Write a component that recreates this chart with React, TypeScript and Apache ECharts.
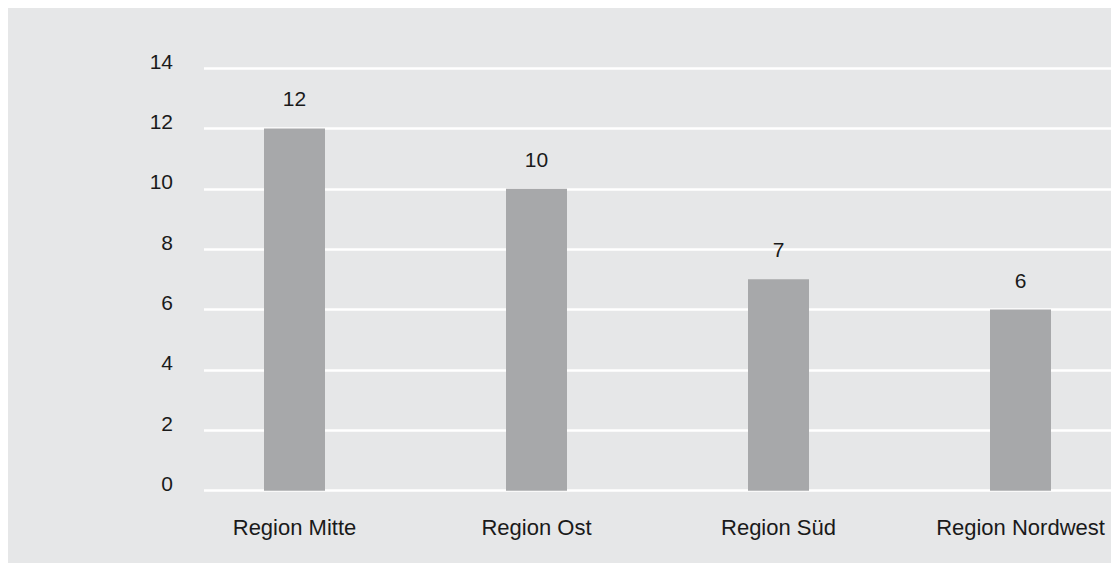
import React, { useEffect, useRef } from "react";
import * as echarts from "echarts";

const categories = ["Region Mitte", "Region Ost", "Region Süd", "Region Nordwest"];
const values = [12, 10, 7, 6];
const yTicks = { min: 0, max: 14, interval: 2 };

const FONT = "'Liberation Sans', Arial, Helvetica, sans-serif";
const TEXT = "#1a1a1a";

export default function App() {
  const ref = useRef<HTMLDivElement>(null);
  useEffect(() => {
    if (!ref.current) return;
    const chart = echarts.init(ref.current, undefined, { renderer: "svg" });
    chart.setOption({
      animation: false,
      backgroundColor: "#e6e7e8",
      textStyle: { fontFamily: FONT },
      grid: [
        { left: 165.5, top: 60, width: 968, height: 422.7 },
        { left: 196, top: 60, width: 940, height: 422.7 },
      ],
      xAxis: [
        {
          gridIndex: 0,
          type: "category",
          data: categories,
          axisLine: { show: false },
          axisTick: { show: false },
          axisLabel: { fontSize: 22, color: TEXT, margin: 26, fontFamily: FONT },
        },
        { gridIndex: 1, type: "value", show: false, min: 0, max: 1 },
      ],
      yAxis: [
        { gridIndex: 0, type: "value", min: yTicks.min, max: yTicks.max, interval: yTicks.interval, show: false },
        {
          gridIndex: 1,
          type: "value",
          min: yTicks.min,
          max: yTicks.max,
          interval: yTicks.interval,
          axisLine: { show: false },
          axisTick: { show: false },
          splitLine: { show: true, lineStyle: { color: "#ffffff", width: 2.5 } },
          axisLabel: {
            fontSize: 21,
            color: TEXT,
            margin: 31,
            fontFamily: FONT,
            verticalAlign: "bottom",
            lineHeight: 14,
          },
        },
      ],
      series: [
        {
          type: "bar",
          xAxisIndex: 0,
          yAxisIndex: 0,
          data: values,
          barWidth: 61,
          itemStyle: { color: "#a7a8aa" },
          z: 5,
          label: {
            show: true,
            position: "top",
            distance: 19,
            fontSize: 21,
            color: TEXT,
            fontFamily: FONT,
          },
        },
      ],
    });
    return () => chart.dispose();
  }, []);
  return (
    <div
      style={{
        position: "fixed",
        left: 8,
        top: 8,
        right: 0,
        bottom: 0,
        overflow: "hidden",
        background: "#e6e7e8",
      }}
    >
      <div ref={ref} style={{ width: 1140, height: 555 }} />
    </div>
  );
}
